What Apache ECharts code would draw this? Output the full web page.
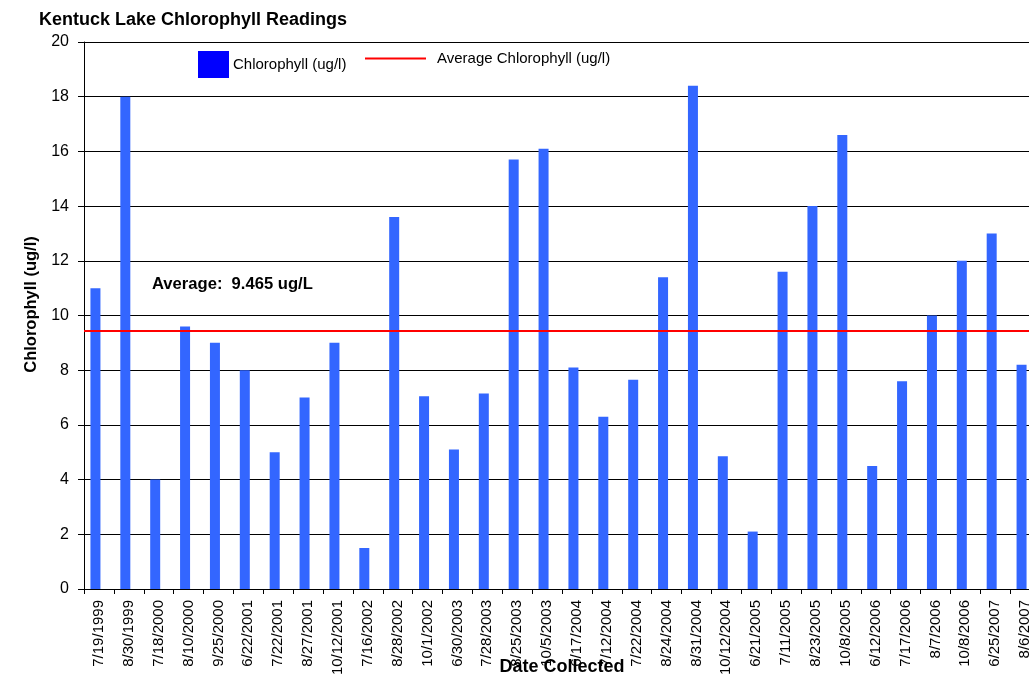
<!DOCTYPE html>
<html><head><meta charset="utf-8">
<script src="https://cdn.jsdelivr.net/npm/echarts@6/dist/echarts.min.js"></script>
<style>html,body{margin:0;padding:0;background:#fff}#c{width:1029px;height:682px}</style>
</head><body><div id="c"></div>
<script>
const dates = ['7/19/1999','8/30/1999','7/18/2000','8/10/2000','9/25/2000','6/22/2001','7/22/2001','8/27/2001','10/12/2001','7/16/2002','8/28/2002','10/1/2002','6/30/2003','7/28/2003','8/25/2003','10/5/2003','6/17/2004','7/12/2004','7/22/2004','8/24/2004','8/31/2004','10/12/2004','6/21/2005','7/11/2005','8/23/2005','10/8/2005','6/12/2006','7/17/2006','8/7/2006','10/8/2006','6/25/2007','8/6/2007'];
const chlorophyll = [11.0,18.0,4.0,9.6,9.0,8.0,5.0,7.0,9.0,1.5,13.6,7.05,5.1,7.15,15.7,16.1,8.1,6.3,7.65,11.4,18.4,4.85,2.1,11.6,14.0,16.6,4.5,7.6,10.0,12.0,13.0,8.2];
const average = 9.465;
const yTicks = [0,2,4,6,8,10,12,14,16,18,20];

const font = 'Liberation Sans, Arial, sans-serif';
const chart = echarts.init(document.getElementById('c'));
chart.setOption({
  animation: false,
  textStyle: {fontFamily: font},
  title: {text: 'Kentuck Lake Chlorophyll Readings', left: 34, top: 6,
    textStyle: {fontSize: 18, fontWeight: 'bold', color: '#000', fontFamily: font}},
  legend: [
    {data: [{name: 'Chlorophyll (ug/l)', itemStyle: {color: '#0000ff'}}], left: 193, top: 46,
     itemWidth: 31, itemHeight: 27, icon: 'rect',
     textStyle: {fontSize: 15, color: '#000', fontFamily: font, padding: [0,0,0,-1]}},
    {data: ['Average Chlorophyll (ug/l)'], left: 360, top: 46,
     itemWidth: 61, itemHeight: 2, icon: 'rect',
     textStyle: {fontSize: 15, color: '#000', fontFamily: font, padding: [-7,0,0,6]}}
  ],
  grid: {left: 84, right: -11, top: 42, bottom: 93, outerBoundsMode: 'none', containLabel: false},
  xAxis: {
    type: 'category', data: dates,
    name: 'Date Collected', nameLocation: 'middle', nameGap: 69, nameMoveOverlap: false,
    nameTextStyle: {fontSize: 18, fontWeight: 'bold', color: '#000', fontFamily: font},
    axisLine: {lineStyle: {color: '#000', width: 1}},
    axisTick: {show: true, length: 5, lineStyle: {color: '#000'}},
    axisLabel: {rotate: 90, fontSize: 15, color: '#000', margin: 11, interval: 0, fontFamily: font}
  },
  yAxis: {
    type: 'value', min: 0, max: 20, interval: 2,
    name: 'Chlorophyll (ug/l)', nameLocation: 'middle', nameGap: 44, nameMoveOverlap: false,
    nameTextStyle: {fontSize: 16.5, fontWeight: 'bold', color: '#000', fontFamily: font, padding: [0,0,0,22]},
    axisLine: {show: true, lineStyle: {color: '#000', width: 1}},
    axisTick: {show: true, length: 6, lineStyle: {color: '#000'}},
    axisLabel: {fontSize: 16, color: '#000', margin: 15, fontFamily: font,
      formatter: v => yTicks.includes(v) ? String(v) : ''},
    splitLine: {lineStyle: {color: '#000', width: 1}}
  },
  graphic: [{type: 'text', left: 152, top: 276,
    style: {text: 'Average:  9.465 ug/L', font: 'bold 16.6px ' + font, fill: '#000'}}],
  series: [
    {name: 'Chlorophyll (ug/l)', type: 'bar', data: chlorophyll, barWidth: 10, barGap: '0%',
     itemStyle: {color: '#3366ff'}},
    {name: '_pad', type: 'bar', data: dates.map(() => null), barWidth: 7, barGap: '0%', silent: true},
    {name: 'Average Chlorophyll (ug/l)', type: 'line', data: [], itemStyle: {color: '#ff0000'},
     lineStyle: {color: '#ff0000', width: 2},
     markLine: {symbol: 'none', silent: true, label: {show: false},
       lineStyle: {color: '#ff0000', width: 2, type: 'solid'},
       data: [{yAxis: average}]}}
  ]
});
</script></body></html>
